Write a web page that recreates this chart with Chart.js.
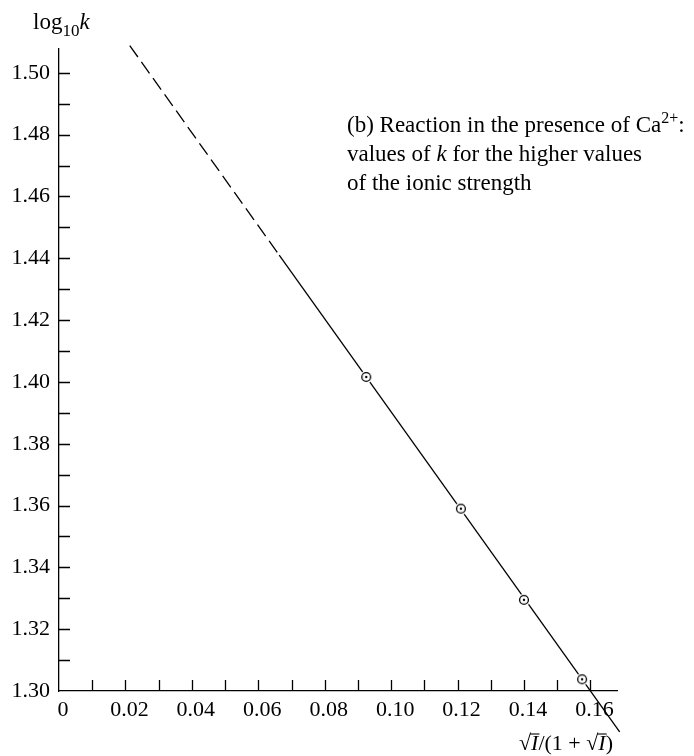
<!DOCTYPE html>
<html><head><meta charset="utf-8">
<script src="https://cdn.jsdelivr.net/npm/chart.js@4.4.1/dist/chart.umd.min.js"></script>
<style>html,body{margin:0;padding:0;background:#fff}#wrap{width:694px;height:756px;position:relative}</style>
</head><body><div id="wrap"><canvas id="c"></canvas></div>
<script>
// measured data points: x = sqrt(I)/(1+sqrt(I)), y = log10 k
const xValues = [0.0925, 0.121, 0.140, 0.1575];
const logK = [1.4016, 1.359, 1.3295, 1.3038];
// fitted straight line: dashed extrapolation and solid part
const fitDashX = [0.0213, 0.0663];
const fitDashY = [1.5088, 1.441];
const fitSolidX = [0.0663, 0.1688];
const fitSolidY = [1.441, 1.2868];
// axis ranges / tick labels
const xRange = [0, 0.168];
const yRange = [1.30, 1.5077];
const xTickLabels = ['0','0.02','0.04','0.06','0.08','0.10','0.12','0.14','0.16'];
const yTickLabels = ['1.30','1.32','1.34','1.36','1.38','1.40','1.42','1.44','1.46','1.48','1.50'];
const noteLines = ['(b) Reaction in the presence of Ca', 'values of ', 'of the ionic strength'];

const FONT = '"Liberation Serif","Times New Roman",serif';
const toPts = (xs, ys) => xs.map((v, i) => ({x: v, y: ys[i]}));

const marker = document.createElement('canvas');
marker.width = 16; marker.height = 16;
(function(){
  const m = marker.getContext('2d');
  m.fillStyle = '#fff'; m.beginPath(); m.arc(8, 8, 6.3, 0, Math.PI*2); m.fill();
  m.strokeStyle = '#000'; m.lineWidth = 1.3; m.beginPath(); m.arc(8, 8, 4.4, 0, Math.PI*2); m.stroke();
  m.fillStyle = '#000'; m.beginPath(); m.arc(8, 8, 1.2, 0, Math.PI*2); m.fill();
})();

const fmtLabel = (v, labels) => {
  const s = (Math.abs(v) < 1e-9) ? '0' : v.toFixed(2);
  return labels.includes(s) ? s : '';
};

const decor = {
  id: 'decor',
  afterDraw(chart) {
    const ctx = chart.ctx, xs = chart.scales.x, ys = chart.scales.y;
    ctx.save();
    ctx.strokeStyle = '#000'; ctx.lineWidth = 1.3;
    ctx.beginPath();
    xs.ticks.forEach(t => {
      if (Math.abs(t.value) < 1e-9) return;
      const px = Math.round(xs.getPixelForValue(t.value)) + 0.5;
      ctx.moveTo(px, ys.bottom); ctx.lineTo(px, ys.bottom - 11);
    });
    ys.ticks.forEach(t => {
      if (Math.abs(t.value - yRange[0]) < 1e-9) return;
      const py = Math.round(ys.getPixelForValue(t.value)) + 0.5;
      ctx.moveTo(xs.left, py); ctx.lineTo(xs.left + 11, py);
    });
    ctx.stroke();

    ctx.fillStyle = '#000';
    ctx.textBaseline = 'alphabetic'; ctx.textAlign = 'left';
    const R = '23px ' + FONT, I = 'italic 23px ' + FONT, S = '16px ' + FONT;
    // y title: log10 k
    let x = 33, b = 29;
    ctx.font = R; ctx.fillText('log', x, b); x += ctx.measureText('log').width;
    ctx.font = '17px ' + FONT; ctx.fillText('10', x, b + 7); x += ctx.measureText('10').width;
    ctx.font = I; ctx.fillText('k', x, b);

    // x title: sqrt(I)/(1 + sqrt(I)), right aligned
    const R2 = '22px ' + FONT, I2 = 'italic 22px ' + FONT;
    const parts = [['\u221A', R2], ['I', I2, true], ['/(1 + ', R2], ['\u221A', R2], ['I', I2, true], [')', R2]];
    let w = 0; parts.forEach(p => { ctx.font = p[1]; w += ctx.measureText(p[0]).width; });
    x = 613 - w; b = 750;
    parts.forEach(p => {
      ctx.font = p[1];
      const pw = ctx.measureText(p[0]).width;
      ctx.fillText(p[0], x, b);
      if (p[2]) { ctx.beginPath(); ctx.lineWidth = 1.1; ctx.moveTo(x - 1, b - 16); ctx.lineTo(x + pw + 1, b - 16); ctx.stroke(); }
      x += pw;
    });

    // note
    const nx = 347;
    x = nx; b = 132;
    ctx.font = R; ctx.fillText(noteLines[0], x, b); x += ctx.measureText(noteLines[0]).width;
    ctx.font = S; ctx.fillText('2+', x, b - 9); x += ctx.measureText('2+').width;
    ctx.font = R; ctx.fillText(':', x, b);
    x = nx; b = 161;
    ctx.fillText(noteLines[1], x, b); x += ctx.measureText(noteLines[1]).width;
    ctx.font = I; ctx.fillText('k', x, b); x += ctx.measureText('k').width;
    ctx.font = R; ctx.fillText(' for the higher values', x, b);
    ctx.fillText(noteLines[2], nx, 190);
    ctx.restore();
  }
};

new Chart(document.getElementById('c'), {
  type: 'scatter',
  data: {
    datasets: [
      { data: toPts(xValues, logK), pointStyle: marker, pointRadius: 6, pointHoverRadius: 6, showLine: false, order: 0, clip: false },
      { data: toPts(fitSolidX, fitSolidY), showLine: true, borderColor: '#000', borderWidth: 1.3, pointRadius: 0, order: 1, clip: false },
      { data: toPts(fitDashX, fitDashY), showLine: true, borderColor: '#000', borderWidth: 1.3, borderDash: [14, 6], pointRadius: 0, order: 1, clip: false }
    ]
  },
  options: {
    responsive: true, maintainAspectRatio: false, animation: false,
    events: [],
    layout: { padding: { left: 0, right: 77, top: 49, bottom: 0 } },
    plugins: { legend: { display: false }, tooltip: { enabled: false } },
    scales: {
      x: {
        type: 'linear', min: xRange[0], max: xRange[1],
        grid: { display: false, drawTicks: false },
        border: { display: true, color: '#000', width: 1.3 },
        afterFit: s => { s.height = 65; },
        ticks: { stepSize: 0.01, includeBounds: false, autoSkip: false, maxRotation: 0, padding: 6, labelOffset: 4, color: '#000',
          font: { family: FONT, size: 22 }, callback: v => fmtLabel(v, xTickLabels) }
      },
      y: {
        type: 'linear', min: yRange[0], max: yRange[1],
        grid: { display: false, drawTicks: false },
        border: { display: true, color: '#000', width: 1.3 },
        afterFit: s => { s.width = 59; },
        ticks: { stepSize: 0.01, includeBounds: false, autoSkip: false, padding: 9, color: '#000',
          font: { family: FONT, size: 22 }, callback: v => fmtLabel(v, yTickLabels) }
      }
    }
  },
  plugins: [decor]
});
</script></body></html>
